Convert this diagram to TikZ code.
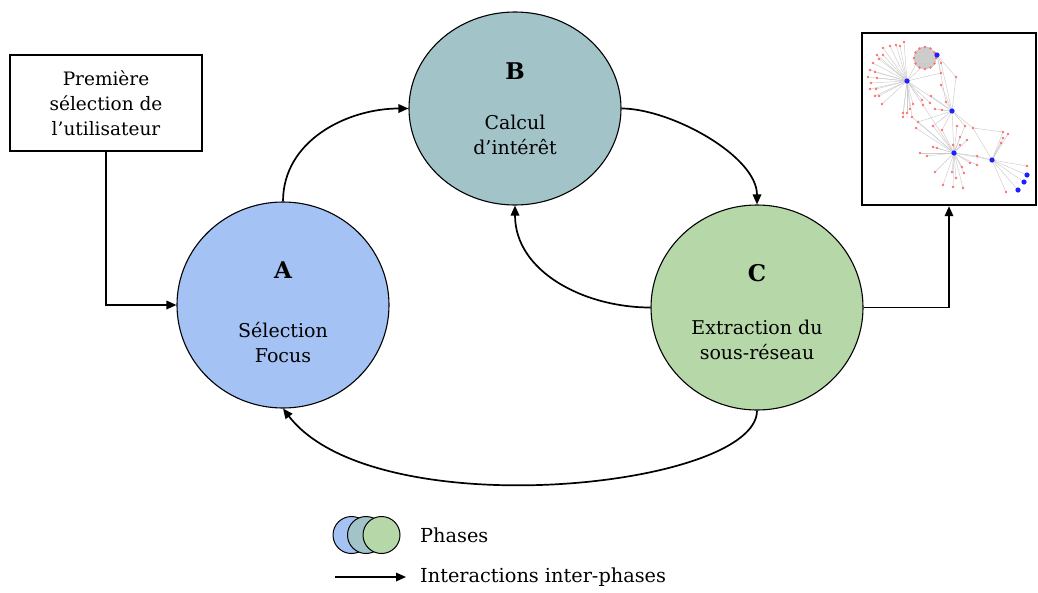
\documentclass[tikz,border=0pt]{standalone}
\usepackage{fontspec}
\setmainfont{DejaVu Serif}
\usepackage{tikz}
\usetikzlibrary{shapes.geometric,arrows.meta}
\definecolor{phaseA}{HTML}{A4C2F4}
\definecolor{phaseB}{HTML}{A2C4C9}
\definecolor{phaseC}{HTML}{B6D7A8}
\definecolor{leafred}{HTML}{FF7070}
\definecolor{hubblue}{HTML}{1F1FFF}

\begin{document}
\begin{tikzpicture}[x=1pt,y=-1pt]
  \tikzset{PhaseStyle/.style = {
    shape         = ellipse,
    draw          = black,
    line width    = 1.1pt,
    text          = black,
    inner sep     = 0pt,
    minimum width = 212pt,
    align         = center,
    font          = \fontsize{19}{25}\selectfont
    }
  }
  \tikzset{BoxStyle/.style = {
    shape         = rectangle,
    draw          = black,
    fill          = white,
    line width    = 2.4pt,
    text          = black,
    inner sep     = 0pt,
    align         = center,
    font          = \fontsize{18.5}{25}\selectfont
    }
  }
  \tikzset{EdgeStyle/.style = {
    draw          = black,
    line width    = 1.7pt,
    -{Triangle[length=10pt,width=8.5pt]}
    }
  }
  \tikzset{LegendStyle/.style = {
    shape         = circle,
    draw          = black,
    line width    = 1pt,
    minimum size  = 37pt,
    inner sep     = 0pt
    }
  }
  \tikzset{LabelStyle/.style = {
    anchor        = west,
    inner sep     = 0pt,
    font          = \fontsize{19.3}{23}\selectfont
    }
  }
  \tikzset{NetEdge/.style = {draw = gray!40, line width = 0.45pt}}
  \tikzset{NetLeaf/.style = {fill = leafred}}
  \tikzset{NetHub/.style = {fill = hubblue}}

  \useasboundingbox (0,0) rectangle (1038,592);

	\node[PhaseStyle, fill = phaseA, minimum height = 206pt](A) at (283, 305) {\rule{0pt}{32pt}{\fontsize{23}{28}\selectfont\bfseries A}\\[34pt]Sélection\\Focus};
	\node[PhaseStyle, fill = phaseB, minimum height = 193pt](B) at (515, 108.5) {{\fontsize{23}{28}\selectfont\bfseries B}\\[25pt]Calcul\\d’intérêt};
	\node[PhaseStyle, fill = phaseC, minimum height = 205pt](C) at (757, 307.5) {\rule{0pt}{26pt}{\fontsize{23}{28}\selectfont\bfseries C}\\[28pt]Extraction du\\sous-réseau};
	\node[BoxStyle, minimum width = 192pt, minimum height = 96pt](User) at (106, 103) {Première\\sélection de\\l’utilisateur};
	\node[BoxStyle, minimum width = 174pt, minimum height = 172pt](Net) at (949, 119) {};

	\coordinate (H1) at (907, 81);
	\coordinate (H2) at (937, 55);
	\coordinate (H3) at (952, 111);
	\coordinate (H4) at (954, 153);
	\coordinate (H5) at (992, 160);
	\foreach \a in {0,20,...,340}
	  \foreach \b in {0,40,...,320}
	    \draw[NetEdge] ([shift={(\a:11)}]925,58) -- ([shift={(\b+10:11)}]925,58);
	\foreach \a in {0,30,...,330}
	  \draw[NetEdge] (H2) -- ([shift={(\a:11)}]925,58);
	\foreach \x/\y in {883/48, 890/46, 896/45, 900/46, 904/42, 877/55, 883/55, 873/63, 879/59, 870/70, 875/72, 868/77, 877/78, 871/83, 876/89, 870/89, 875/96, 879/96, 882/104, 913/104, 922/100, 903/113, 903/117, 907/113, 910/109, 912/117, 923/105, 930/103, 941/73, 922/67, 918/60}
	  \draw[NetEdge] (H1) -- (\x, \y);
	\foreach \x/\y in {941/63, 941/73, 956/77, 946/102}
	  \draw[NetEdge] (H2) -- (\x, \y);
	\foreach \x/\y in {907/81, 931/96, 935/109, 942/110, 946/102, 941/85, 956/77, 941/63, 918/122, 933/126, 942/130, 965/126, 973/128, 954/153}
	  \draw[NetEdge] (H3) -- (\x, \y);
	\foreach \x/\y in {933/126, 942/130, 957/126, 965/126, 960/137, 967/140, 953/145, 960/145, 933/147, 927/156, 920/153, 937/148, 977/156, 970/163, 977/165, 962/167, 952/172, 964/173, 956/178, 943/185, 953/187, 963/188, 935/172, 916/128, 918/122, 912/117, 923/105}
	  \draw[NetEdge] (H4) -- (\x, \y);
	\foreach \x/\y in {1003/132, 1008/134, 1003/138, 1001/143, 1027/166, 1006/192, 973/128, 977/156, 954/153, 1027/175, 1024/182, 1018/190}
	  \draw[NetEdge] (H5) -- (\x, \y);
	\draw[NetEdge] (973,128) -- (1003,132);
	\foreach \a in {0,30,...,330}
	  \fill[NetLeaf] ([shift={(\a:11)}]925,58) circle (1.4);
	\foreach \x/\y in {883/48, 890/46, 896/45, 900/46, 904/42, 877/55, 883/55, 873/63, 879/59, 870/70, 875/72, 868/77, 877/78, 871/83, 876/89, 870/89, 875/96, 879/96, 882/104, 913/104, 922/100, 903/113, 903/117, 907/113, 910/109, 912/117, 923/105, 930/103, 941/73, 941/63, 941/85, 956/77, 946/102, 931/96, 935/109, 942/110, 918/122, 933/126, 942/130, 957/126, 965/126, 973/128, 960/137, 967/140, 953/145, 960/145, 933/147, 927/156, 920/153, 937/148, 977/156, 970/163, 977/165, 962/167, 952/172, 964/173, 956/178, 943/185, 953/187, 963/188, 935/172, 916/128, 1003/132, 1008/134, 1003/138, 1001/143, 1027/166, 1006/192}
	  \fill[NetLeaf] (\x, \y) circle (1.4);
	\foreach \x/\y in {907/81, 937/55, 952/111, 954/153, 992/160, 1027/175, 1024/182, 1018/190}
	  \fill[NetHub] (\x, \y) circle (2.6);

	\draw[EdgeStyle](User.south) |- (A.west);
	\draw[EdgeStyle](A.north) to[out=90, in=180] (B.west);
	\draw[EdgeStyle](B.east) to[out=0, in=90, looseness=0.75] (C.north);
	\draw[EdgeStyle](C.west) to[out=180, in=-90] (B.south);
	\draw[EdgeStyle](C.south) .. controls (757, 488) and (375, 528) .. (A.south);
	\draw[EdgeStyle](C.east) -| (Net.south);

	\node[LegendStyle, fill = phaseA](LegA) at (351.5, 535) {};
	\node[LegendStyle, fill = phaseB](LegB) at (366, 535) {};
	\node[LegendStyle, fill = phaseC](LegC) at (381.5, 535) {};
	\node[LabelStyle](LegPhases) at (420, 535) {Phases};
	\coordinate (LegStart) at (335, 577);
	\coordinate (LegEnd) at (406, 577);
	\draw[EdgeStyle](LegStart) -- (LegEnd);
	\node[LabelStyle](LegArrows) at (420, 577) {Interactions inter-phases};

  \end{tikzpicture}
\end{document}
